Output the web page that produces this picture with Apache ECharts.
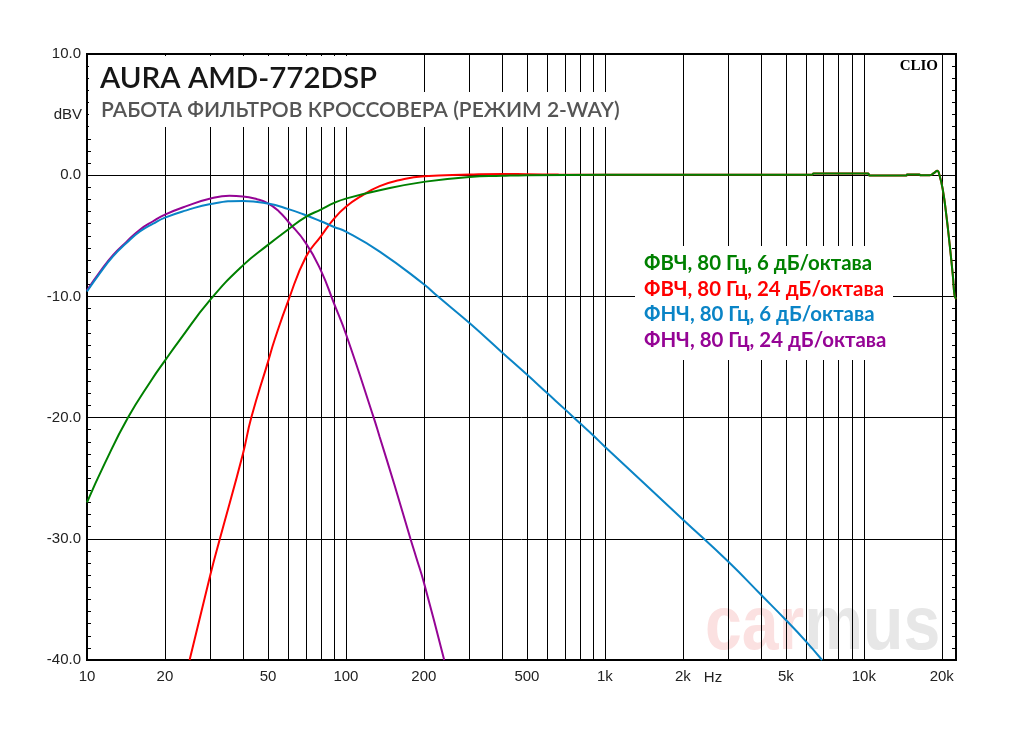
<!DOCTYPE html>
<html>
<head>
<meta charset="utf-8">
<script src="https://cdn.jsdelivr.net/npm/echarts@6/dist/echarts.min.js"></script>
<style>
html,body{margin:0;padding:0;background:#fff;}
#chart{width:1024px;height:730px;}
</style>
</head>
<body>
<div id="chart"></div>
<script>
// ---- data ----
const seriesNames = ['ФВЧ, 80 Гц, 6 дБ/октава', 'ФВЧ, 80 Гц, 24 дБ/октава', 'ФНЧ, 80 Гц, 6 дБ/октава', 'ФНЧ, 80 Гц, 24 дБ/октава'];
const seriesColors = ['#008000', '#ff0000', '#0a84c6', '#950495'];

const hpf6Freq = [10, 11.7, 14.4, 17.75, 20, 22.8, 30, 40, 50, 60, 70, 80, 90, 100, 135, 200, 300, 400, 500, 1000, 2000, 5000, 6300, 6400, 10400, 10500, 14600, 14700, 16400, 16500, 18000, 18700, 19200, 19600, 20200, 20800, 21500, 22100, 22400, 22700];
const hpf6Db   = [-27.0, -23.8, -20.0, -16.9, -15.3, -13.6, -10.25, -7.44, -5.75, -4.46, -3.44, -2.84, -2.29, -1.93, -1.24, -0.55, -0.14, -0.05, 0.0, 0.03, 0.03, 0.03, 0.03, 0.14, 0.14, -0.03, -0.03, 0.05, 0.05, 0.0, 0.0, 0.2, 0.36, 0.0, -1.24, -3.2, -5.9, -8.4, -9.9, -10.2];

const hpf24Freq = [24.9, 30, 32.6, 40, 43.1, 50, 53, 60, 70, 80, 90, 100, 115, 135, 160, 200, 300, 400, 500, 663, 1000, 2000, 5000, 6300, 6400, 10400, 10500, 14600, 14700, 16400, 16500, 18000, 18700, 19200, 19600, 20200, 20800, 21500, 22100, 22400, 22700];
const hpf24Db   = [-40.0, -32.9, -30.0, -23.0, -20.0, -15.4, -13.6, -10.3, -6.75, -5.04, -3.58, -2.6, -1.7, -0.9, -0.42, -0.08, 0.05, 0.1, 0.08, 0.05, 0.03, 0.03, 0.03, 0.03, 0.14, 0.14, -0.03, -0.03, 0.05, 0.05, 0.0, 0.0, 0.2, 0.36, 0.0, -1.24, -3.2, -5.9, -8.4, -9.9, -10.2];

const lpf6Freq = [10, 11.2, 12.6, 14.2, 16, 18, 20, 24.2, 30, 40, 50, 60, 70, 80, 90, 100, 135, 200, 225, 300, 400, 500, 600, 700, 800, 900, 1000, 2000, 3000, 4000, 5000, 6000, 6900];
const lpf6Db   = [-9.6, -8.1, -6.7, -5.6, -4.65, -4.0, -3.5, -2.9, -2.37, -2.12, -2.34, -2.8, -3.3, -3.8, -4.27, -4.65, -6.3, -9.0, -9.95, -12.2, -14.6, -16.45, -18.0, -19.3, -20.45, -21.45, -22.4, -28.4, -31.9, -34.6, -36.7, -38.5, -40.0];

const lpf24Freq = [10, 11.2, 12.6, 14.2, 16, 18, 20, 24.2, 30, 35.5, 40, 45.3, 50, 55, 60, 70, 80, 90, 100, 128, 135, 153.7, 177.5, 186.6, 200, 239.6];
const lpf24Db   = [-9.5, -8.0, -6.6, -5.5, -4.5, -3.8, -3.25, -2.55, -1.93, -1.7, -1.75, -1.98, -2.33, -2.97, -3.86, -5.6, -7.85, -10.6, -13.1, -20.0, -21.6, -25.5, -30.0, -31.5, -33.6, -40.0];

const xLabelValues = [10, 20, 50, 100, 200, 500, 1000, 2000, 5000, 10000, 20000];
const xGridValues = [10, 20, 30, 40, 50, 60, 70, 80, 90, 100, 200, 300, 400, 500, 600, 700, 800, 900, 1000, 2000, 3000, 4000, 5000, 6000, 7000, 8000, 9000, 10000, 20000];
const yMin = -40, yMax = 10, yStep = 10;

const titleText = 'AURA AMD-772DSP';
const subtitleText = 'РАБОТА ФИЛЬТРОВ КРОССОВЕРА (РЕЖИМ 2-WAY)';

function zip(fs, vs) { return fs.map((f, i) => [f, vs[i]]); }

const seriesData = [
  zip(hpf6Freq, hpf6Db),
  zip(hpf24Freq, hpf24Db),
  zip(lpf6Freq, lpf6Db),
  zip(lpf24Freq, lpf24Db)
];
// drawing order: red, purple, blue, green (green on top)
const drawOrder = [1, 3, 2, 0];

const chart = echarts.init(document.getElementById('chart'), null, {renderer: 'canvas'});

const labelFont = '"Liberation Sans", Arial, sans-serif';
const textFont = 'Lato, "Open Sans", sans-serif';
const wmFont = 'bold 76px "Liberation Sans", Arial, sans-serif';

const option = {
  animation: false,
  backgroundColor: '#fff',
  grid: {left: 87, right: 68, top: 54, bottom: 70, show: true, borderColor: '#000', borderWidth: 2, backgroundColor: 'transparent', z: 1},
  xAxis: {
    type: 'log', logBase: 10, min: 10, max: 22700, z: 1,
    axisLine: {show: false},
    axisTick: {show: false, customValues: xGridValues},
    splitLine: {show: true, lineStyle: {color: '#000', width: 1}},
    minorSplitLine: {show: false},
    axisLabel: {
      customValues: xLabelValues,
      margin: 9, fontSize: 15, color: '#222', fontFamily: labelFont,
      formatter: v => v >= 1000 ? (Math.round(v / 100) / 10) + 'k' : String(Math.round(v))
    }
  },
  yAxis: [{
    type: 'value', min: yMin, max: yMax, interval: yStep, z: 1,
    axisLine: {show: true, lineStyle: {color: '#000', width: 2}},
    axisTick: {show: true, inside: true, length: 4, lineStyle: {color: '#000'}},
    minorTick: {show: true, splitNumber: 10, length: 4, lineStyle: {color: '#000'}},
    splitLine: {show: true, lineStyle: {color: '#000', width: 1}},
    axisLabel: {margin: 6, fontSize: 15, color: '#222', fontFamily: labelFont, formatter: v => v.toFixed(1)}
  }, {
    type: 'value', min: yMin, max: yMax, interval: yStep, position: 'right', z: 1,
    axisLine: {show: true, lineStyle: {color: '#000', width: 2}},
    axisTick: {show: true, inside: true, length: 4, lineStyle: {color: '#000'}},
    minorTick: {show: true, splitNumber: 10, length: 4, lineStyle: {color: '#000'}},
    splitLine: {show: false},
    axisLabel: {show: false}
  }],
  legend: {
    orient: 'vertical', left: 639, top: 253, icon: 'none', itemWidth: 0, itemHeight: 21, itemGap: 5,
    padding: 0, selectedMode: false, z: 20,
    textStyle: {fontSize: 20.4, fontFamily: textFont, fontWeight: 'bold'},
    data: seriesNames.map((n, i) => ({name: n, textStyle: {color: seriesColors[i]}}))
  },
  series: drawOrder.map(i => ({
    name: seriesNames[i], type: 'line', yAxisIndex: 0,
    data: seriesData[i], showSymbol: false, symbol: 'none', smooth: 0.5,
    lineStyle: {color: seriesColors[i], width: 2}, itemStyle: {color: seriesColors[i]},
    z: 3
  })),
  graphic: [
    // watermark
    {type: 'text', z: 0, x: 705, y: 590, scaleX: 0.87, silent: true,
     style: {text: '{a|car}{b|mus}', font: wmFont,
       rich: {a: {fill: '#fbe1e1', font: wmFont}, b: {fill: '#e7e7e7', font: wmFont}}}},
    // masks behind text blocks
    {type: 'rect', z: 5, silent: true, shape: {x: 89, y: 56, width: 297, height: 36}, style: {fill: '#fff'}},
    {type: 'rect', z: 5, silent: true, shape: {x: 89, y: 92, width: 537, height: 35}, style: {fill: '#fff'}},
    {type: 'rect', z: 5, silent: true, shape: {x: 635, y: 246, width: 258, height: 114}, style: {fill: '#fff'}},
    // texts
    {type: 'text', z: 6, x: 100, y: 78, style: {text: titleText, font: '600 29.5px ' + textFont, fill: '#161616', verticalAlign: 'middle'}},
    {type: 'text', z: 6, x: 101, y: 110, style: {text: subtitleText, font: '600 21px ' + textFont, fill: '#555555', verticalAlign: 'middle'}},
    {type: 'text', z: 6, x: 938, y: 66, style: {text: 'CLIO', font: 'bold 15px "Liberation Serif", "Times New Roman", serif', fill: '#000', align: 'right', verticalAlign: 'middle'}},
    {type: 'text', z: 6, x: 82, y: 115, style: {text: 'dBV', font: '15px ' + labelFont, fill: '#222', align: 'right', verticalAlign: 'middle'}},
    {type: 'text', z: 6, x: 713, y: 678, style: {text: 'Hz', font: '15px ' + labelFont, fill: '#222', align: 'center', verticalAlign: 'middle'}}
  ]
};
chart.setOption(option);
</script>
</body>
</html>
